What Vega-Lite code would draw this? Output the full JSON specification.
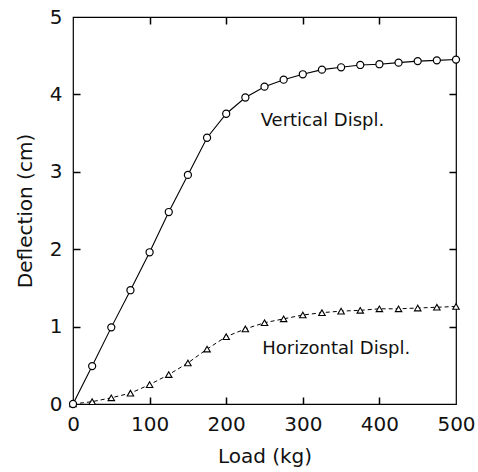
{
  "$schema": "https://vega.github.io/schema/vega-lite/v6.json",
  "width": 383,
  "height": 387,
  "autosize": {"type": "none"},
  "padding": {"left": 73, "top": 17, "right": 22, "bottom": 68},
  "background": "white",
  "config": {
    "view": {"stroke": "black", "strokeWidth": 1.2},
    "font": "DejaVu Sans",
    "axis": {
      "labelFlush": false,
      "labelColor": "#111",
      "labelFont": "DejaVu Sans",
      "labelFontSize": 20,
      "titleColor": "#111",
      "titleFont": "DejaVu Sans",
      "titleFontSize": 20,
      "titleFontWeight": "normal"
    }
  },
  "datasets": {
    "defl": [
      {"load": 0, "value": 0, "series": "Vertical"},
      {"load": 25, "value": 0.49, "series": "Vertical"},
      {"load": 50, "value": 0.99, "series": "Vertical"},
      {"load": 75, "value": 1.47, "series": "Vertical"},
      {"load": 100, "value": 1.96, "series": "Vertical"},
      {"load": 125, "value": 2.48, "series": "Vertical"},
      {"load": 150, "value": 2.96, "series": "Vertical"},
      {"load": 175, "value": 3.44, "series": "Vertical"},
      {"load": 200, "value": 3.75, "series": "Vertical"},
      {"load": 225, "value": 3.96, "series": "Vertical"},
      {"load": 250, "value": 4.10, "series": "Vertical"},
      {"load": 275, "value": 4.19, "series": "Vertical"},
      {"load": 300, "value": 4.26, "series": "Vertical"},
      {"load": 325, "value": 4.32, "series": "Vertical"},
      {"load": 350, "value": 4.35, "series": "Vertical"},
      {"load": 375, "value": 4.38, "series": "Vertical"},
      {"load": 400, "value": 4.39, "series": "Vertical"},
      {"load": 425, "value": 4.41, "series": "Vertical"},
      {"load": 450, "value": 4.43, "series": "Vertical"},
      {"load": 475, "value": 4.44, "series": "Vertical"},
      {"load": 500, "value": 4.45, "series": "Vertical"},
      {"load": 0, "value": 0, "series": "Horizontal"},
      {"load": 25, "value": 0.03, "series": "Horizontal"},
      {"load": 50, "value": 0.08, "series": "Horizontal"},
      {"load": 75, "value": 0.14, "series": "Horizontal"},
      {"load": 100, "value": 0.25, "series": "Horizontal"},
      {"load": 125, "value": 0.38, "series": "Horizontal"},
      {"load": 150, "value": 0.53, "series": "Horizontal"},
      {"load": 175, "value": 0.71, "series": "Horizontal"},
      {"load": 200, "value": 0.87, "series": "Horizontal"},
      {"load": 225, "value": 0.97, "series": "Horizontal"},
      {"load": 250, "value": 1.05, "series": "Horizontal"},
      {"load": 275, "value": 1.10, "series": "Horizontal"},
      {"load": 300, "value": 1.15, "series": "Horizontal"},
      {"load": 325, "value": 1.18, "series": "Horizontal"},
      {"load": 350, "value": 1.20, "series": "Horizontal"},
      {"load": 375, "value": 1.21, "series": "Horizontal"},
      {"load": 400, "value": 1.23, "series": "Horizontal"},
      {"load": 425, "value": 1.23, "series": "Horizontal"},
      {"load": 450, "value": 1.24, "series": "Horizontal"},
      {"load": 475, "value": 1.25, "series": "Horizontal"},
      {"load": 500, "value": 1.26, "series": "Horizontal"}
    ],
    "labels": [
      {"load": 245, "value": 3.59, "text": "Vertical Displ."},
      {"load": 247, "value": 0.65, "text": "Horizontal Displ."}
    ]
  },
  "layer": [
    {
      "data": {"name": "defl"},
      "transform": [{"filter": "datum.series == 'Horizontal'"}],
      "mark": {"type": "line", "color": "black", "strokeWidth": 1, "strokeDash": [4, 3]},
      "encoding": {
        "x": {"field": "load", "type": "quantitative", "scale": {"domain": [0, 500], "nice": false},
              "axis": {"orient": "bottom", "values": [0, 100, 200, 300, 400, 500], "ticks": false, "domain": false, "grid": false, "title": "Load (kg)", "labelPadding": 10, "titlePadding": 12}},
        "y": {"field": "value", "type": "quantitative", "scale": {"domain": [0, 5], "nice": false},
              "axis": {"orient": "left", "values": [0, 1, 2, 3, 4, 5], "ticks": false, "domain": false, "grid": false, "title": "Deflection (cm)", "labelPadding": 11, "titlePadding": 14}}
      }
    },
    {
      "data": {"name": "defl"},
      "transform": [{"filter": "datum.series == 'Vertical'"}],
      "mark": {"type": "line", "color": "black", "strokeWidth": 1.1},
      "encoding": {
        "x": {"field": "load", "type": "quantitative",
              "axis": {"orient": "bottom", "values": [100, 200, 300, 400], "labels": false, "title": null, "domain": false, "grid": false, "ticks": true, "tickColor": "black", "tickWidth": 1.5, "tickSize": -7}},
        "y": {"field": "value", "type": "quantitative",
              "axis": {"orient": "left", "values": [1, 2, 3, 4], "labels": false, "title": null, "domain": false, "grid": false, "ticks": true, "tickColor": "black", "tickWidth": 1.5, "tickSize": -7}}
      }
    },
    {
      "data": {"name": "defl"},
      "transform": [{"filter": "datum.series == 'Horizontal'"}],
      "mark": {"type": "point", "shape": "triangle-up", "size": 42, "filled": false, "fill": "white", "fillOpacity": 1, "stroke": "black", "strokeWidth": 1.1, "opacity": 1},
      "encoding": {
        "x": {"field": "load", "type": "quantitative", "axis": null},
        "y": {"field": "value", "type": "quantitative", "axis": null}
      }
    },
    {
      "data": {"name": "defl"},
      "transform": [{"filter": "datum.series == 'Vertical'"}],
      "mark": {"type": "point", "shape": "circle", "size": 50, "filled": false, "fill": "white", "fillOpacity": 1, "stroke": "black", "strokeWidth": 1.2, "opacity": 1},
      "encoding": {
        "x": {"field": "load", "type": "quantitative", "axis": null},
        "y": {"field": "value", "type": "quantitative", "axis": null}
      }
    },
    {
      "data": {"name": "labels"},
      "mark": {"type": "text", "align": "left", "baseline": "alphabetic", "fontSize": 18, "font": "DejaVu Sans", "color": "#111"},
      "encoding": {
        "x": {"field": "load", "type": "quantitative",
              "axis": {"orient": "top", "values": [100, 200, 300, 400], "labels": false, "title": null, "domain": false, "grid": false, "ticks": true, "tickColor": "black", "tickWidth": 1.5, "tickSize": -7}},
        "y": {"field": "value", "type": "quantitative",
              "axis": {"orient": "right", "values": [1, 2, 3, 4], "labels": false, "title": null, "domain": false, "grid": false, "ticks": true, "tickColor": "black", "tickWidth": 1.5, "tickSize": -7}},
        "text": {"field": "text"}
      }
    }
  ],
  "resolve": {"axis": {"x": "independent", "y": "independent"}}
}
